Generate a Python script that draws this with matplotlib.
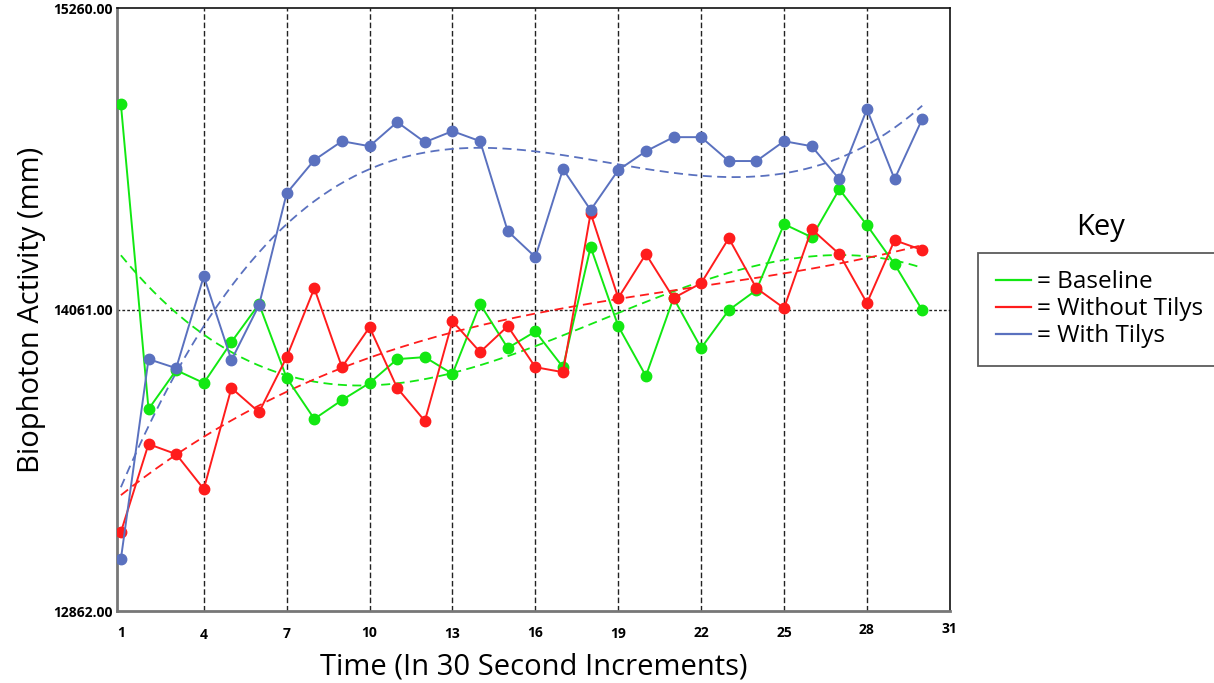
import numpy as np
import matplotlib
matplotlib.use("Agg")
import matplotlib.pyplot as plt
import matplotlib.transforms as mtransforms
from matplotlib.lines import Line2D

plt.rcParams['font.family'] = ['Open Sans', 'DejaVu Sans']

# time steps (30 second increments)
time = list(range(1, 31))

baseline = [14878, 13665, 13820, 13769, 13932, 14083, 13789, 13626, 13701, 13769,
            13864, 13872, 13805, 14083, 13908, 13974, 13832, 14310, 13995, 13797,
            14107, 13908, 14059, 14139, 14401, 14349, 14540, 14397, 14242, 14059]
without_tilys = [13176, 13526, 13486, 13347, 13749, 13653, 13872, 14146, 13832, 13991,
                 13749, 13618, 14015, 13892, 13995, 13832, 13812, 14445, 14107, 14282,
                 14107, 14166, 14345, 14146, 14067, 14381, 14282, 14087, 14337, 14298]
with_tilys = [13069, 13864, 13828, 14194, 13860, 14079, 14524, 14656, 14731, 14711,
              14807, 14727, 14771, 14731, 14373, 14270, 14620, 14457, 14616, 14691,
              14747, 14747, 14652, 14652, 14731, 14711, 14580, 14858, 14580, 14819]

series = [('= Baseline', baseline, '#12e812', 3),
          ('= Without Tilys', without_tilys, '#ff1c1c', 3),
          ('= With Tilys', with_tilys, '#5a71bf', 3)]

y_min, y_mid, y_max = 12862.0, 14061.0, 15260.0
xticks = [1, 4, 7, 10, 13, 16, 19, 22, 25, 28, 31]
# small vertical jitter of the tick labels in the original (pixels)
xtick_shift = [0, -2, -1, 0, -1, 0, -1, 0, 0, 3, 4]

fig = plt.figure(figsize=(12.14, 6.83), dpi=100)
ax = fig.add_axes([0.0964, 0.1054, 0.686, 0.8826])

# grid
for xv in xticks[1:-1]:
    ax.axvline(xv, color='#222222', lw=1.0, ls=(0, (4, 2)), zorder=1)
ax.axhline(y_mid, color='#222222', lw=1.0, ls=(0, (2, 1.5)), zorder=1)

xs = np.array(time, dtype=float)
xfit = np.linspace(1, 30, 200)
handles = []
for label, vals, col, deg in series:
    ax.plot(time, vals, color=col, lw=1.4, marker='o', ms=7.5, zorder=3)
    coef = np.polyfit(xs, np.array(vals, dtype=float), deg)
    ax.plot(xfit, np.polyval(coef, xfit), color=col, lw=1.3, ls=(0, (5, 3)), zorder=2)
    handles.append(Line2D([], [], color=col, lw=1.6, label=label))

ax.set_xlim(0.86, 31.0)
ax.set_ylim(y_min, y_max)
ax.set_xticks(xticks)
ax.set_xticklabels([str(t) for t in xticks], fontsize=10, fontweight='bold')
ax.set_yticks([y_min, y_mid, y_max])
ax.set_yticklabels(['%.2f' % v for v in [y_min, y_mid, y_max]], fontsize=10, fontweight='bold')
ax.tick_params(length=0, pad=11, axis='x')
ax.tick_params(length=0, pad=3, axis='y')
for lab, dy in zip(ax.get_xticklabels(), xtick_shift):
    lab.set_transform(lab.get_transform() +
                      mtransforms.ScaledTranslation(0, dy / 100, fig.dpi_scale_trans))

for s in ['left', 'bottom']:
    ax.spines[s].set_color('#777777')
    ax.spines[s].set_linewidth(2.0)
for s in ['top', 'right']:
    ax.spines[s].set_color('#111111')
    ax.spines[s].set_linewidth(1.2)

ax.set_xlabel('Time (In 30 Second Increments)', fontsize=21, labelpad=7)
ax.set_ylabel('Biophoton Activity (mm)', fontsize=21, labelpad=5)

leg = fig.legend(handles=handles, loc='upper left', bbox_to_anchor=(978 / 1214, 1 - 253 / 683),
                 fontsize=17.5, frameon=True, fancybox=False, handlelength=1.45,
                 handletextpad=0.25, borderpad=0.72, labelspacing=0.12, borderaxespad=0)
leg.get_frame().set_edgecolor('#333333')
leg.get_frame().set_linewidth(1.3)
fig.text(1101 / 1214, 1 - 227 / 683, 'Key', fontsize=21, ha='center', va='center')

fig.savefig('out.png', dpi=100)
